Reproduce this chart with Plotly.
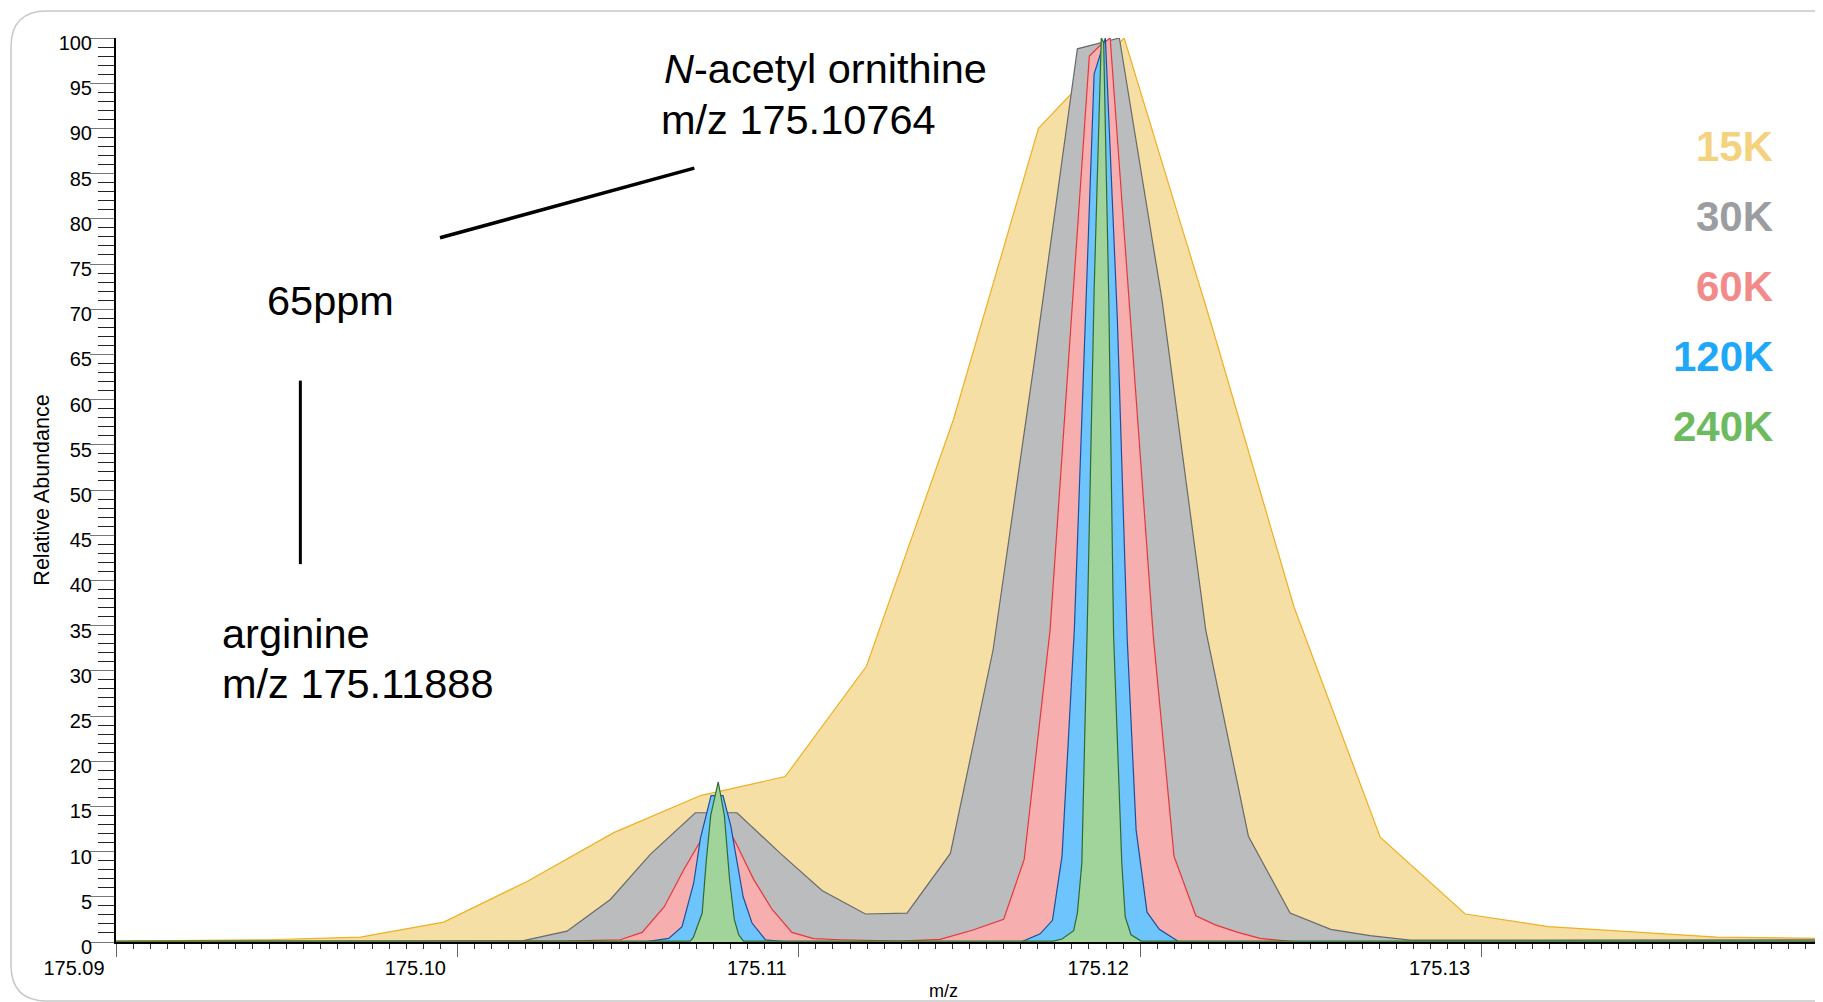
import plotly.graph_objects as go

# profile spectra (m/z, relative abundance)
mz_15k = [175.09000, 175.09218, 175.09443, 175.09716, 175.09960, 175.10204, 175.10458,
          175.10712, 175.10960, 175.11198, 175.11453, 175.11702, 175.11953, 175.12211,
          175.12451, 175.12703, 175.12952, 175.13196, 175.13444, 175.13689, 175.13991]
ab_15k = [0.1, 0.15, 0.25, 0.55, 2.2, 6.7, 12.1,
          16.2, 18.3, 30.5, 57.8, 90.0, 100.0, 68.0,
          37.0, 11.6, 3.1, 1.7, 1.1, 0.55, 0.4]

mz_30k = [175.09000, 175.10067, 175.10187, 175.10321, 175.10448, 175.10565, 175.10697,
          175.10819, 175.10946, 175.11068, 175.11195, 175.11317, 175.11444, 175.11569,
          175.11693, 175.11816, 175.11939, 175.12064, 175.12192, 175.12317, 175.12439,
          175.12558, 175.12673, 175.12791, 175.13991]
ab_30k = [0.05, 0.05, 0.1, 1.2, 4.7, 9.7, 14.3,
          14.3, 9.8, 5.7, 3.1, 3.2, 9.8, 32.3,
          65.0, 98.8, 100.0, 71.0, 34.5, 11.7, 3.2,
          1.4, 0.7, 0.2, 0.25]

mz_60k = [175.09000, 175.10302, 175.10477, 175.10541, 175.10606, 175.10663, 175.10717,
          175.10764, 175.10814, 175.10868, 175.10922, 175.10980, 175.11043, 175.11122,
          175.11297, 175.11414, 175.11508, 175.11600, 175.11660, 175.11736, 175.11851,
          175.11883, 175.11912, 175.12038, 175.12099, 175.12163, 175.12220, 175.12284,
          175.12351, 175.12448, 175.13991]
ab_60k = [0.05, 0.1, 0.25, 1.06, 3.9, 8.0, 11.5,
          14.5, 11.1, 6.9, 3.6, 1.06, 0.37, 0.25,
          0.1, 0.3, 1.3, 2.5, 9.1, 34.5, 98.0,
          99.2, 100.0, 34.0, 9.5, 2.9, 1.9, 1.1,
          0.4, 0.05, 0.05]

mz_120k = [175.09000, 175.10555, 175.10619, 175.10658, 175.10692, 175.10712, 175.10743,
           175.10778, 175.10801, 175.10837, 175.10863, 175.10902, 175.10955, 175.11654,
           175.11707, 175.11743, 175.11771, 175.11807, 175.11865, 175.11898, 175.11933,
           175.11962, 175.11988, 175.12020, 175.12056, 175.12112, 175.13991]
ab_120k = [0.05, 0.05, 0.4, 1.7, 6.5, 11.5, 16.2,
           16.2, 12.8, 5.0, 2.1, 0.25, 0.05, 0.05,
           0.9, 2.4, 9.5, 34.5, 96.0, 100.0, 69.0,
           33.5, 12.4, 3.3, 1.4, 0.05, 0.05]

mz_240k = [175.09000, 175.10682, 175.10691, 175.10717, 175.10729, 175.10742, 175.10764,
           175.10782, 175.10797, 175.10811, 175.10824, 175.10838, 175.11746, 175.11771,
           175.11805, 175.11816, 175.11829, 175.11845, 175.11865, 175.11886, 175.11893,
           175.11908, 175.11922, 175.11933, 175.11946, 175.11956, 175.11973, 175.12003,
           175.13991]
ab_240k = [0.1, 0.1, 0.5, 3.2, 9.0, 14.0, 17.7,
           14.0, 7.0, 2.5, 0.8, 0.1, 0.1, 0.33,
           1.25, 3.2, 8.7, 35.0, 72.0, 100.0, 99.5,
           71.0, 34.0, 22.0, 8.8, 2.8, 0.8, 0.1,
           0.1]

resolutions = ['15K', '30K', '60K', '120K', '240K']
series_mz = [mz_15k, mz_30k, mz_60k, mz_120k, mz_240k]
series_ab = [ab_15k, ab_30k, ab_60k, ab_120k, ab_240k]

x_ticks = [175.09, 175.10, 175.11, 175.12, 175.13]
x_ticktext = ['175.09', '175.10', '175.11', '175.12', '175.13']

fill_colors = ['#f5dfa5', '#bbbcbe', '#f7aeaf', '#6ec4fd', '#a1d49a']
line_colors = ['#efb021', '#6a6a6a', '#e8363b', '#1d4f9c', '#2f6b2f']
label_colors = ['#f5d27d', '#9c9da1', '#f38a8a', '#1ea8f7', '#6dbb5e']

FONT = 'Liberation Sans, Arial, Helvetica, sans-serif'

fig = go.Figure()
for name, x, y, fc, lc in zip(resolutions, series_mz, series_ab, fill_colors, line_colors):
    fig.add_trace(go.Scatter(x=x, y=y, mode='lines', name=name, fill='tozeroy',
                             fillcolor=fc, line=dict(color=lc, width=1.2),
                             showlegend=False))

# resolution labels stacked on the right
for i, (name, col) in enumerate(zip(resolutions, label_colors)):
    fig.add_annotation(x=175.1386, y=88.0 - i * 7.75, xref='x', yref='y',
                       text='<b>%s</b>' % name, showarrow=False, xanchor='right',
                       yanchor='middle', font=dict(size=42, color=col, family=FONT))

# compound labels
txt = dict(size=41.5, color='black', family=FONT)
fig.add_annotation(x=175.10600, y=96.6, text='<i>N</i>-acetyl ornithine', showarrow=False,
                   xanchor='left', yanchor='middle', font=txt)
fig.add_annotation(x=175.10590, y=91.0, text='m/z 175.10764', showarrow=False,
                   xanchor='left', yanchor='middle', font=txt)
fig.add_annotation(x=175.09436, y=71.0, text='65ppm', showarrow=False,
                   xanchor='left', yanchor='middle', font=txt)
fig.add_annotation(x=175.09305, y=34.1, text='arginine', showarrow=False,
                   xanchor='left', yanchor='middle', font=txt)
fig.add_annotation(x=175.09305, y=28.6, text='m/z 175.11888', showarrow=False,
                   xanchor='left', yanchor='middle', font=txt)
fig.add_annotation(x=0.4845, y=-0.0545, xref='paper', yref='paper', text='m/z',
                   showarrow=False, xanchor='center', yanchor='middle',
                   font=dict(size=18, color='black', family=FONT))

fig.add_shape(type='line', x0=175.09949, y0=77.9, x1=175.10694, y1=85.6,
              line=dict(color='black', width=3.5))
fig.add_shape(type='line', x0=175.0954, y0=62.1, x1=175.0954, y1=41.8,
              line=dict(color='black', width=3))

# rounded frame around the panel (page pixel -> paper; plot area spans 116..1823 x 38..942)
def px(v):
    return (v - 116) / 1707

def py(v):
    return (942 - v) / 904

r = 36
frame = ('M %f,%f L %f,%f Q %f,%f %f,%f L %f,%f Q %f,%f %f,%f L %f,%f' % (
    px(2000), py(11), px(11 + r), py(11), px(11), py(11), px(11), py(11 + r),
    px(11), py(1001 - r), px(11), py(1001), px(11 + r), py(1001), px(2000), py(1001)))
fig.add_shape(type='path', path=frame, xref='paper', yref='paper', layer='below',
              line=dict(color='#c8c8c8', width=1.5))

# the page body adds an 8px offset, so the figure is 8px smaller and margins shifted
fig.update_layout(
    width=1815, height=994,
    margin=dict(l=108, r=0, t=30, b=60, autoexpand=False),
    plot_bgcolor='white', paper_bgcolor='white',
    font=dict(family=FONT, color='black'),
    xaxis=dict(range=[175.09, 175.14], tickmode='array', tickvals=x_ticks,
               ticktext=x_ticktext, ticks='outside', ticklen=13, tickwidth=1,
               tickcolor='#666', showline=True, linecolor='black', linewidth=2,
               showgrid=False, zeroline=False, automargin=False,
               tickfont=dict(size=20, family=FONT), ticklabelshift=-42,
               ticklabelstandoff=-6,
               minor=dict(tickmode='linear', tick0=175.09, dtick=0.0005, ticks='outside',
                          ticklen=5, tickwidth=1, tickcolor='#333', showgrid=False)),
    xaxis2=dict(range=[175.09, 175.14], overlaying='x', anchor='y', side='bottom',
                tickmode='linear', tick0=175.09, dtick=0.002, ticks='outside', ticklen=9,
                tickwidth=1, tickcolor='#333', showticklabels=False, showline=False,
                showgrid=False, zeroline=False, automargin=False),
    yaxis=dict(range=[0, 100], tickmode='linear', tick0=0, dtick=5, ticks='outside',
               ticklen=24, tickwidth=1, tickcolor='#777', showline=True, linecolor='black',
               linewidth=2, showgrid=False, zeroline=False, automargin=False,
               tickfont=dict(size=20, family=FONT), ticklabelshift=5, ticklabelstandoff=-6,
               title=dict(text='Relative Abundance', font=dict(size=21.5, family=FONT),
                          standoff=3),
               minor=dict(tickmode='linear', tick0=0, dtick=1, ticks='outside', ticklen=16,
                          tickwidth=1, tickcolor='#222', showgrid=False)),
)

fig.write_html('out.html')
